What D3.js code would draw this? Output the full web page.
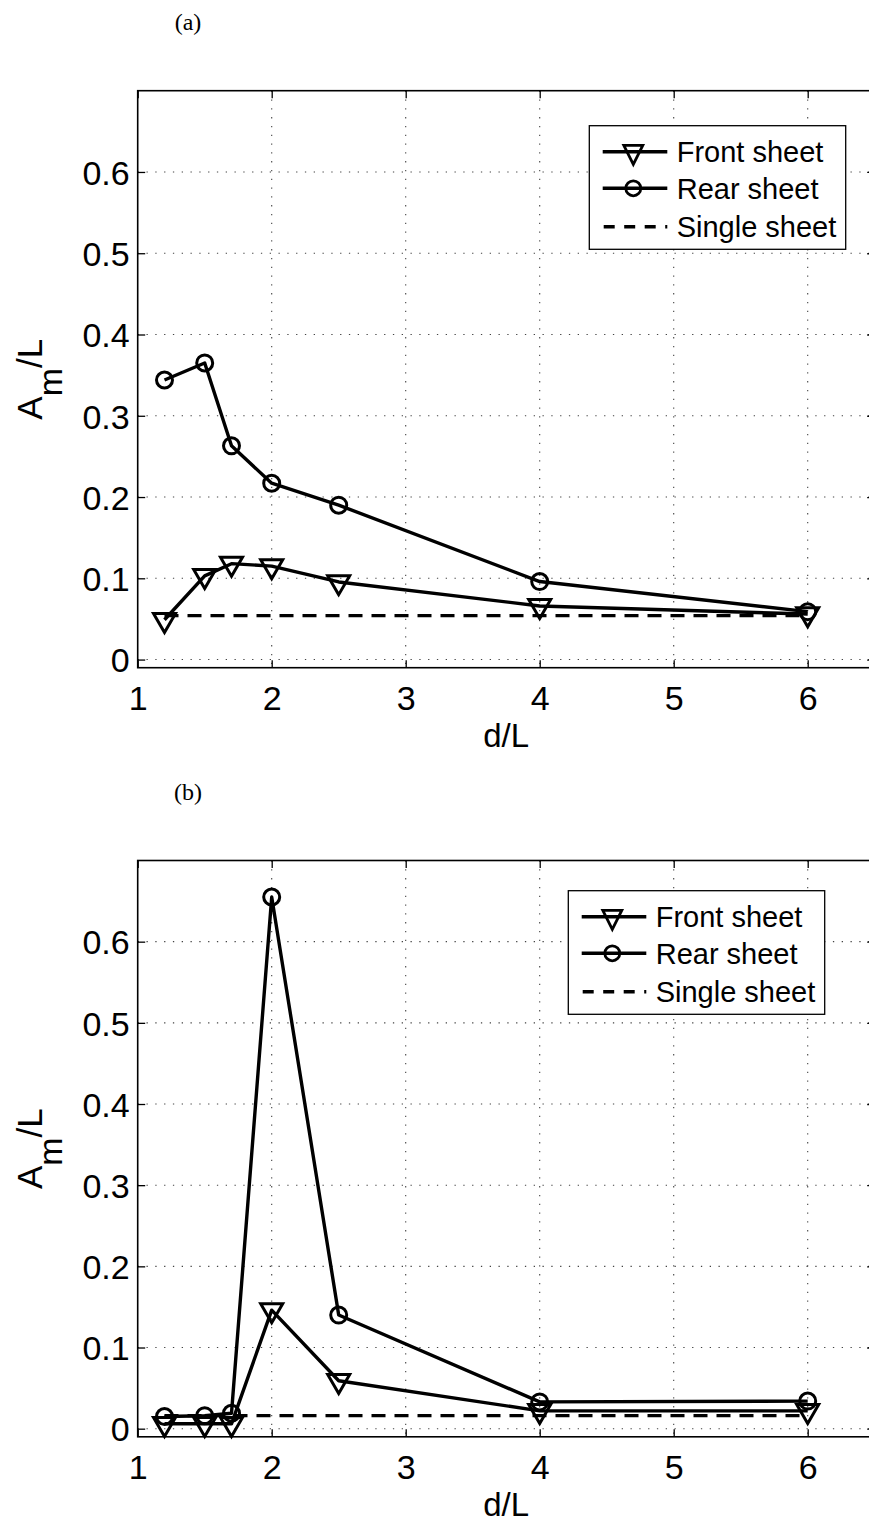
<!DOCTYPE html>
<html><head><meta charset="utf-8">
<script src="https://cdn.jsdelivr.net/npm/d3@7"></script>
<style>body{margin:0;background:#fff}svg{display:block}</style>
</head><body>
<script>
const dValues = [1.2, 1.5, 1.7, 2, 2.5, 4, 6];
const frontA = [0.049, 0.103, 0.118, 0.115, 0.0955, 0.066, 0.056];
const rearA  = [0.344, 0.365, 0.263, 0.217, 0.190, 0.096, 0.059];
const singleA = 0.054;
const frontB = [0.006, 0.006, 0.006, 0.146, 0.059, 0.022, 0.022];
const rearB  = [0.015, 0.016, 0.019, 0.655, 0.140, 0.033, 0.034];
const singleB = 0.016;
const xTicks = [1, 2, 3, 4, 5, 6];
const yTicks = [0, 0.1, 0.2, 0.3, 0.4, 0.5, 0.6];
const legendLabels = ["Front sheet", "Rear sheet", "Single sheet"];
const panelLabels = ["(a)", "(b)"];

const W = 869, H = 1523;
const svg = d3.select("body").append("svg").attr("width", W).attr("height", H);
const FONT = "'Liberation Sans', Arial, Helvetica, sans-serif";

const panels = [
  {top: 90.7, bottom: 667.7, front: frontA, rear: rearA, single: singleA, label: panelLabels[0], legX: 589.3, legY: 125.7},
  {top: 860.5, bottom: 1436.8, front: frontB, rear: rearB, single: singleB, label: panelLabels[1], legX: 568.3, legY: 890.7}
];
const left = 137.7, right = 874.7;

function triPath(w, h) {
  return `M0,${2*h/3}L${-w/2},${-h/3}L${w/2},${-h/3}Z`;
}

panels.forEach(p => {
  const g = svg.append("g");
  const x = d3.scaleLinear().domain([1, 6.5]).range([left, right]);
  const y = d3.scaleLinear().domain([-0.01, 0.7]).range([p.bottom, p.top]);

  // panel label
  g.append("text").attr("x", 188).attr("y", p.top - 61)
    .attr("text-anchor", "middle").attr("font-family", "'Liberation Serif', 'Times New Roman', serif")
    .attr("font-size", 24).text(p.label);

  // grid
  const grid = g.append("g").attr("stroke", "#444").attr("stroke-width", 1.1).attr("stroke-dasharray", "1.3,7.5");
  grid.selectAll("line.gx").data(xTicks.slice(1)).join("line")
    .attr("x1", d => x(d)).attr("x2", d => x(d)).attr("y1", p.top).attr("y2", p.bottom);
  grid.selectAll("line.gy").data(yTicks).join("line")
    .attr("x1", left).attr("x2", right).attr("y1", d => y(d)).attr("y2", d => y(d));

  // axes with inward ticks
  const xAxisB = d3.axisBottom(x).tickValues(xTicks).tickSize(-7.5).tickPadding(12).tickFormat(d3.format("d"));
  const xAxisT = d3.axisTop(x).tickValues(xTicks).tickSize(-7.5).tickFormat("");
  const yAxisL = d3.axisLeft(y).tickValues(yTicks).tickSize(-7.5).tickPadding(12).tickFormat(d => d === 0 ? "0" : d3.format(".1f")(d));
  const yAxisR = d3.axisRight(y).tickValues(yTicks).tickSize(-7.5).tickFormat("");

  const ab = g.append("g").attr("transform", `translate(0,${p.bottom})`).call(xAxisB);
  const at = g.append("g").attr("transform", `translate(0,${p.top})`).call(xAxisT);
  const al = g.append("g").attr("transform", `translate(${left},0)`).call(yAxisL);
  const ar = g.append("g").attr("transform", `translate(${right},0)`).call(yAxisR);
  [ab, at, al, ar].forEach(a => {
    a.select(".domain").remove();
    a.selectAll(".tick line").attr("stroke", "#000").attr("stroke-width", 1.3);
    a.selectAll("text").attr("font-family", FONT).attr("font-size", 34).attr("fill", "#000");
  });
  ab.selectAll("text").attr("dy", null).attr("y", 42);
  al.selectAll("text").attr("x", -8).attr("dy", "0.36em");

  // box
  g.append("rect").attr("x", left).attr("y", p.top).attr("width", right - left).attr("height", p.bottom - p.top)
    .attr("fill", "none").attr("stroke", "#000").attr("stroke-width", 1.6);

  // axis labels
  g.append("text").attr("x", (left + right) / 2).attr("y", p.bottom + 79)
    .attr("text-anchor", "middle").attr("font-family", FONT).attr("font-size", 33).text("d/L");
  const yl = g.append("text").attr("transform", `translate(42,${(p.top + p.bottom) / 2}) rotate(-90)`)
    .attr("text-anchor", "middle").attr("font-family", FONT).attr("font-size", 35);
  yl.append("tspan").text("A");
  yl.append("tspan").attr("dy", 20).attr("font-size", 34).text("m");
  yl.append("tspan").attr("dy", -20).text("/L");

  // single sheet dashed
  g.append("line").attr("x1", x(dValues[0])).attr("x2", x(dValues[dValues.length - 1]))
    .attr("y1", y(p.single)).attr("y2", y(p.single))
    .attr("stroke", "#000").attr("stroke-width", 3.2).attr("stroke-dasharray", "14,9");

  const line = d3.line().x((d, i) => x(dValues[i])).y(d => y(d));
  // front
  g.append("path").datum(p.front).attr("d", line).attr("fill", "none").attr("stroke", "#000").attr("stroke-width", 3.4).attr("stroke-linejoin", "round");
  g.selectAll("path.tri").data(p.front).join("path").attr("class", "tri")
    .attr("d", triPath(22, 19)).attr("transform", (d, i) => `translate(${x(dValues[i])},${y(d)})`)
    .attr("fill", "none").attr("stroke", "#000").attr("stroke-width", 3).attr("stroke-linejoin", "miter");
  // rear
  g.append("path").datum(p.rear).attr("d", line).attr("fill", "none").attr("stroke", "#000").attr("stroke-width", 3.4).attr("stroke-linejoin", "round");
  g.selectAll("circle.rc").data(p.rear).join("circle").attr("class", "rc")
    .attr("cx", (d, i) => x(dValues[i])).attr("cy", d => y(d)).attr("r", 8)
    .attr("fill", "none").attr("stroke", "#000").attr("stroke-width", 3);

  // legend
  const lg = g.append("g").attr("transform", `translate(${p.legX},${p.legY})`);
  lg.append("rect").attr("width", 256.4).attr("height", 123.6).attr("fill", "#fff").attr("stroke", "#000").attr("stroke-width", 1.3);
  const rowsY = [26, 62.6, 101];
  const sx1 = 13.4, sx2 = 78, mx = 44;
  legendLabels.forEach((lab, i) => {
    const ly = rowsY[i];
    const ln = lg.append("line").attr("x1", sx1).attr("x2", sx2).attr("y1", ly).attr("y2", ly)
      .attr("stroke", "#000").attr("stroke-width", 3.4);
    if (i === 2) ln.attr("stroke-dasharray", "11,9.5").attr("x1", sx1 + 1);
    if (i === 0) lg.append("path").attr("d", triPath(19, 19)).attr("transform", `translate(${mx},${ly})`)
      .attr("fill", "none").attr("stroke", "#000").attr("stroke-width", 2.8);
    if (i === 1) lg.append("circle").attr("cx", mx).attr("cy", ly).attr("r", 7.5)
      .attr("fill", "none").attr("stroke", "#000").attr("stroke-width", 2.8);
    lg.append("text").attr("x", 87.4).attr("y", ly).attr("dy", "0.36em")
      .attr("font-family", FONT).attr("font-size", 29).text(lab);
  });
});
</script>
</body></html>
